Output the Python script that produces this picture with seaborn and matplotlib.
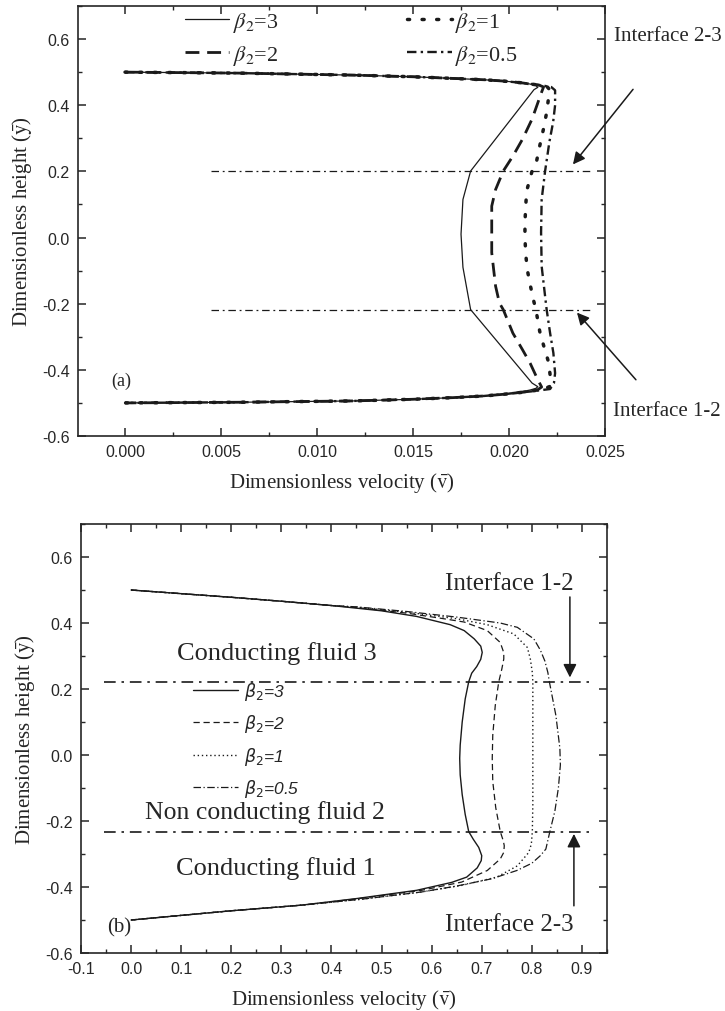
import matplotlib
matplotlib.use("Agg")
import matplotlib.pyplot as plt
import seaborn as sns
from matplotlib.ticker import MultipleLocator, FormatStrFormatter
from matplotlib.font_manager import FontProperties

# ---------------- panel (a): velocity profiles ----------------
a_v_b3 = [0, 0.0060, 0.0119, 0.0150, 0.0171, 0.0187, 0.0197, 0.0205, 0.0211, 0.0214, 0.0215, 0.0213,
          0.0180, 0.0176, 0.0175, 0.0176, 0.0180,
          0.0212, 0.0215, 0.0214, 0.0211, 0.0205, 0.0197, 0.0187, 0.0171, 0.0150, 0.0119, 0.0060, 0]
a_y_b3 = [0.5, 0.497, 0.491, 0.486, 0.481, 0.477, 0.473, 0.469, 0.464, 0.459, 0.454, 0.447,
          0.201, 0.115, 0.010, -0.090, -0.218,
          -0.440, -0.451, -0.456, -0.461, -0.468, -0.474, -0.479, -0.484, -0.489, -0.494, -0.498, -0.5]

a_v_b2 = [0, 0.0060, 0.0119, 0.0150, 0.0171, 0.0187, 0.0197, 0.0205, 0.0211, 0.0216, 0.0218, 0.0217,
          0.0212, 0.0207, 0.0202, 0.0197, 0.0193, 0.0191, 0.0191, 0.0191, 0.0192, 0.0193, 0.0195, 0.0197,
          0.0202, 0.0207, 0.0211, 0.0215, 0.0217, 0.0215, 0.0209, 0.0199, 0.0187, 0.0171, 0.0150, 0.0119, 0.0060, 0]
a_y_b2 = [0.5, 0.497, 0.491, 0.486, 0.481, 0.477, 0.473, 0.469, 0.464, 0.460, 0.455, 0.440,
          0.358, 0.297, 0.246, 0.201, 0.145, 0.095, 0.0, -0.046, -0.097, -0.147, -0.198, -0.218,
          -0.289, -0.339, -0.380, -0.430, -0.452, -0.460, -0.466, -0.473, -0.479, -0.484, -0.489, -0.494, -0.498, -0.5]

a_v_b1 = [0, 0.0060, 0.0119, 0.0150, 0.0171, 0.0187, 0.0197, 0.0206, 0.0214, 0.0220, 0.0221, 0.02205,
          0.02196, 0.02179, 0.0216, 0.02144, 0.0212, 0.02092, 0.02087, 0.02083, 0.02083, 0.02087, 0.02095,
          0.0211, 0.02127, 0.0214, 0.0216, 0.02179, 0.02205, 0.02214, 0.02214, 0.0218, 0.0210, 0.0199,
          0.0187, 0.0171, 0.0150, 0.0119, 0.0060, 0]
a_y_b1 = [0.5, 0.497, 0.491, 0.486, 0.481, 0.477, 0.473, 0.468, 0.462, 0.455, 0.448, 0.418,
          0.378, 0.327, 0.277, 0.232, 0.201, 0.141, 0.095, 0.045, 0.0, -0.050, -0.097,
          -0.142, -0.188, -0.218, -0.284, -0.324, -0.375, -0.415, -0.450, -0.458, -0.466, -0.473,
          -0.479, -0.484, -0.489, -0.494, -0.498, -0.5]

a_v_b05 = [0, 0.0060, 0.0119, 0.0150, 0.0171, 0.0187, 0.0197, 0.0206, 0.0215, 0.0222, 0.0224, 0.0224,
           0.0223, 0.0221, 0.02188, 0.0217, 0.02167, 0.0217, 0.02188, 0.02196, 0.02214, 0.02231, 0.0224,
           0.02234, 0.02214, 0.0212, 0.0200, 0.0187, 0.0171, 0.0150, 0.0119, 0.0060, 0]
a_y_b05 = [0.5, 0.497, 0.491, 0.486, 0.481, 0.477, 0.473, 0.468, 0.462, 0.455, 0.445, 0.400,
           0.350, 0.288, 0.201, 0.115, 0.015, -0.087, -0.178, -0.218, -0.289, -0.349, -0.410,
           -0.440, -0.458, -0.465, -0.472, -0.479, -0.484, -0.489, -0.494, -0.498, -0.5]

a_iface_y = [0.201, -0.218]
a_iface_x = [0.0045, 0.0243]

# ---------------- panel (b) ----------------
b_v_b3 = [0, 0.1, 0.2, 0.3, 0.4, 0.5, 0.57, 0.637, 0.665, 0.685, 0.698, 0.701, 0.698, 0.690, 0.680,
          0.674, 0.667, 0.661, 0.657, 0.656, 0.657, 0.661, 0.667, 0.674, 0.683, 0.694, 0.700, 0.699,
          0.691, 0.670, 0.640, 0.570, 0.450, 0.340, 0.2, 0.1, 0]
b_y_b3 = [0.5, 0.489, 0.478, 0.466, 0.453, 0.437, 0.420, 0.395, 0.377, 0.352, 0.330, 0.311, 0.290,
          0.268, 0.248, 0.222, 0.170, 0.100, 0.030, -0.010, -0.060, -0.120, -0.180, -0.232, -0.255,
          -0.280, -0.305, -0.320, -0.342, -0.370, -0.386, -0.410, -0.435, -0.455, -0.472, -0.486, -0.5]

b_v_b2 = [0, 0.1, 0.2, 0.3, 0.4, 0.45, 0.55, 0.62, 0.665, 0.711, 0.737, 0.744, 0.744, 0.740, 0.734,
          0.727, 0.722, 0.721, 0.722, 0.728, 0.737, 0.743, 0.745, 0.744, 0.737, 0.711, 0.660, 0.580,
          0.450, 0.340, 0.2, 0.1, 0]
b_y_b2 = [0.5, 0.489, 0.478, 0.466, 0.453, 0.447, 0.430, 0.414, 0.403, 0.377, 0.341, 0.310, 0.291,
          0.260, 0.222, 0.150, 0.060, -0.010, -0.080, -0.160, -0.232, -0.260, -0.275, -0.295, -0.315,
          -0.350, -0.385, -0.410, -0.436, -0.455, -0.472, -0.486, -0.5]

b_v_b1 = [0, 0.1, 0.2, 0.3, 0.4, 0.45, 0.55, 0.65, 0.711, 0.764, 0.791, 0.797, 0.801, 0.802, 0.802,
          0.802, 0.802, 0.801, 0.799, 0.794, 0.771, 0.730, 0.660, 0.580, 0.460, 0.340, 0.2, 0.1, 0]
b_y_b1 = [0.5, 0.489, 0.478, 0.466, 0.453, 0.448, 0.433, 0.413, 0.395, 0.367, 0.326, 0.291, 0.250,
          0.222, 0.100, -0.050, -0.150, -0.232, -0.270, -0.295, -0.336, -0.370, -0.395, -0.415,
          -0.437, -0.455, -0.472, -0.486, -0.5]

b_v_b05 = [0, 0.1, 0.2, 0.3, 0.4, 0.45, 0.55, 0.65, 0.737, 0.771, 0.804, 0.817, 0.826, 0.832, 0.835,
           0.848, 0.856, 0.857, 0.853, 0.846, 0.836, 0.828, 0.817, 0.800, 0.770, 0.720, 0.650, 0.580,
           0.460, 0.340, 0.2, 0.1, 0]
b_y_b05 = [0.5, 0.489, 0.478, 0.466, 0.453, 0.449, 0.435, 0.418, 0.400, 0.387, 0.352, 0.318, 0.285,
           0.250, 0.222, 0.120, 0.020, -0.030, -0.100, -0.170, -0.232, -0.285, -0.305, -0.328, -0.350,
           -0.375, -0.397, -0.415, -0.437, -0.455, -0.472, -0.486, -0.5]

b_iface_y = [0.222, -0.232]
b_iface_x = [-0.055, 0.922]

sns.set_theme(style="ticks")
plt.rcParams["font.family"] = ["Liberation Serif", "DejaVu Serif"]
plt.rcParams["mathtext.fontset"] = "stix"
plt.rcParams["axes.linewidth"] = 1.2

fig = plt.figure(figsize=(7.25, 10.12), dpi=100)
ax1 = fig.add_axes([0.1076, 0.5682, 0.7269, 0.4249])
ax2 = fig.add_axes([0.1117, 0.0573, 0.7255, 0.4239])

tick_font = ["Liberation Sans", "DejaVu Sans"]

def style_axes(ax):
    ax.tick_params(which="both", direction="in", top=True, right=True, labelsize=11.5, pad=6)
    ax.tick_params(which="major", length=6, width=1.1)
    ax.tick_params(which="minor", length=3, width=1.0)
    for lab in ax.get_xticklabels() + ax.get_yticklabels():
        lab.set_family(tick_font)
    ax.set_ylim(-0.6, 0.7)
    ax.yaxis.set_major_locator(MultipleLocator(0.2))
    ax.yaxis.set_minor_locator(MultipleLocator(0.1))
    ax.yaxis.set_major_formatter(FormatStrFormatter("%.1f"))
    ax.set_ylabel(r"Dimensionless height ($\bar{\mathrm{y}}$)", fontsize=15, labelpad=6)
    ax.set_xlabel(r"Dimensionless velocity ($\bar{\mathrm{v}}$)", fontsize=15, labelpad=8)

# ---- panel (a) ----
sns.lineplot(x=a_v_b3, y=a_y_b3, sort=False, estimator=None, ax=ax1, color="k", lw=0.9,
             label=r"$\beta_2$=3")
sns.lineplot(x=a_v_b2, y=a_y_b2, sort=False, estimator=None, ax=ax1, color="k", lw=2.0,
             linestyle=(0, (5, 2.8)), label=r"$\beta_2$=2")
sns.lineplot(x=a_v_b1, y=a_y_b1, sort=False, estimator=None, ax=ax1, color="k", lw=2.5,
             linestyle=(0, (0.6, 3.6)), dash_capstyle="round", label=r"$\beta_2$=1")
sns.lineplot(x=a_v_b05, y=a_y_b05, sort=False, estimator=None, ax=ax1, color="k", lw=1.7,
             linestyle=(0, (4, 1.8, 1, 1.8)), label=r"$\beta_2$=0.5")
for yi in a_iface_y:
    sns.lineplot(x=a_iface_x, y=[yi, yi], sort=False, estimator=None, ax=ax1, color="k", lw=0.9,
                 linestyle=(0, (6, 3, 1.5, 3)))
ax1.set_xlim(-0.00245, 0.025)
ax1.xaxis.set_major_locator(MultipleLocator(0.005))
ax1.xaxis.set_minor_locator(MultipleLocator(0.0025))
ax1.xaxis.set_major_formatter(FormatStrFormatter("%.3f"))
style_axes(ax1)

h, l = ax1.get_legend_handles_labels()
ax1.legend(h[:4], l[:4], ncol=2, frameon=False, fontsize=16, loc="upper left",
           bbox_to_anchor=(185 / 725, 1 - 11 / 1012), bbox_transform=fig.transFigure,
           borderpad=0, borderaxespad=0, handlelength=2.0, handletextpad=0.15,
           columnspacing=5.8, labelspacing=0.4)

ax1.text(-0.0002, -0.433, "(a)", fontsize=13, ha="center", va="center")
ax1.text(0.02828, 0.612, "Interface 2-3", fontsize=15, ha="center", va="center", clip_on=False)
ax1.text(0.02823, -0.523, "Interface 1-2", fontsize=15, ha="center", va="center", clip_on=False)
arrow = dict(arrowstyle="-|>", color="k", lw=1.1, mutation_scale=18, shrinkA=0, shrinkB=0)
ax1.annotate("", xy=(0.02333, 0.221), xytext=(0.02646, 0.448), arrowprops=arrow,
             annotation_clip=False)
ax1.annotate("", xy=(0.02354, -0.227), xytext=(0.02661, -0.430), arrowprops=arrow,
             annotation_clip=False)

# ---- panel (b) ----
sns.lineplot(x=b_v_b3, y=b_y_b3, sort=False, estimator=None, ax=ax2, color="k", lw=1.0,
             label=r"$\beta_2$=3")
sns.lineplot(x=b_v_b2, y=b_y_b2, sort=False, estimator=None, ax=ax2, color="k", lw=0.9,
             linestyle=(0, (5, 3)), label=r"$\beta_2$=2")
sns.lineplot(x=b_v_b1, y=b_y_b1, sort=False, estimator=None, ax=ax2, color="k", lw=1.0,
             linestyle=(0, (1, 2)), label=r"$\beta_2$=1")
sns.lineplot(x=b_v_b05, y=b_y_b05, sort=False, estimator=None, ax=ax2, color="k", lw=0.9,
             linestyle=(0, (6, 2, 1, 2)), label=r"$\beta_2$=0.5")
for yi in b_iface_y:
    sns.lineplot(x=b_iface_x, y=[yi, yi], sort=False, estimator=None, ax=ax2, color="k", lw=1.2,
                 linestyle=(0, (7, 3.5, 1.5, 3.5)))
ax2.set_xlim(-0.1, 0.95)
ax2.xaxis.set_major_locator(MultipleLocator(0.1))
ax2.xaxis.set_minor_locator(MultipleLocator(0.05))
ax2.xaxis.set_major_formatter(FormatStrFormatter("%.1f"))
style_axes(ax2)

h, l = ax2.get_legend_handles_labels()
leg_font = FontProperties(family=tick_font, style="italic", size=12.5, math_fontfamily="dejavusans")
ax2.legend(h[:4], l[:4], ncol=1, frameon=False, prop=leg_font, loc="upper left",
           bbox_to_anchor=(193 / 725, 1 - 681 / 1012), bbox_transform=fig.transFigure,
           borderpad=0, borderaxespad=0, handlelength=2.6, handletextpad=0.35, labelspacing=0.6)

ax2.text(0.290, 0.312, "Conducting fluid 3", fontsize=19, ha="center", va="center")
ax2.text(0.268, -0.170, "Non conducting fluid 2", fontsize=18.5, ha="center", va="center")
ax2.text(0.290, -0.342, "Conducting fluid 1", fontsize=19, ha="center", va="center")
ax2.text(-0.023, -0.520, "(b)", fontsize=15, ha="center", va="center")
ax2.text(0.756, 0.521, "Interface 1-2", fontsize=18, ha="center", va="center")
ax2.text(0.756, -0.512, "Interface 2-3", fontsize=18, ha="center", va="center")
arrow_b = dict(arrowstyle="-|>", color="k", lw=1.1, mutation_scale=20, shrinkA=0, shrinkB=0)
ax2.annotate("", xy=(0.876, 0.235), xytext=(0.876, 0.479), arrowprops=arrow_b)
ax2.annotate("", xy=(0.884, -0.239), xytext=(0.884, -0.457), arrowprops=arrow_b)

fig.savefig("out.png", dpi=100)
